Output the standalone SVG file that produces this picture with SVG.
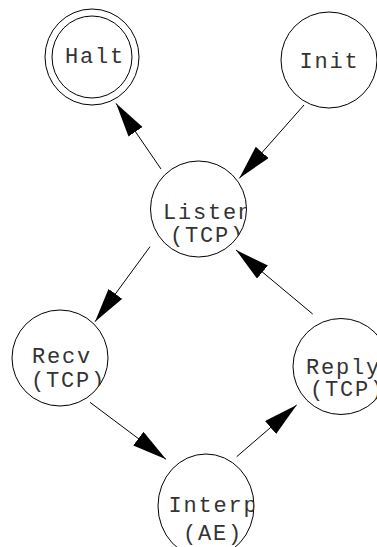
<svg xmlns="http://www.w3.org/2000/svg" width="377" height="547" viewBox="0 0 377 547">
<style>
.node ellipse{fill:none;stroke:#000;stroke-width:1}
.node text{font-family:"Liberation Mono","DejaVu Sans Mono",monospace;font-size:22px;letter-spacing:1.8px;fill:#333}
.edge{stroke:#000;stroke-width:1;fill:none;marker-end:url(#arrow)}
</style>
<defs>
<marker id="arrow" markerUnits="userSpaceOnUse" markerWidth="36" markerHeight="18" refX="34.5" refY="8.5" orient="auto" viewBox="0 0 36 18">
<path d="M0,0 L34.5,8.5 L0,17 z" fill="#000"/>
</marker>
<clipPath id="cHalt"><ellipse cx="92" cy="57" rx="40" ry="41"/></clipPath>
<clipPath id="cInit"><ellipse cx="329" cy="60" rx="48" ry="48"/></clipPath>
<clipPath id="cListen"><ellipse cx="198.5" cy="209" rx="48" ry="48"/></clipPath>
<clipPath id="cRecv"><ellipse cx="60" cy="358" rx="48" ry="48"/></clipPath>
<clipPath id="cReply"><ellipse cx="341" cy="366.5" rx="48" ry="48"/></clipPath>
<clipPath id="cInterp"><ellipse cx="206" cy="506" rx="48" ry="52"/></clipPath>
</defs>
<g id="edges">
<line class="edge" x1="161" y1="169" x2="116" y2="103.3"/>
<line class="edge" x1="304" y1="105" x2="239.3" y2="178.3"/>
<line class="edge" x1="150" y1="246.7" x2="95" y2="321.7"/>
<line class="edge" x1="312.7" y1="314" x2="236" y2="250"/>
<line class="edge" x1="90" y1="402.3" x2="166" y2="459.3"/>
<line class="edge" x1="236.7" y1="456.7" x2="296.7" y2="405"/>
</g>
<g id="Halt" class="node">
<ellipse cx="92" cy="57" rx="47" ry="48"/>
<ellipse cx="92" cy="57" rx="40" ry="41"/>
<text x="65" y="62.5" clip-path="url(#cHalt)">Halt</text>
</g>
<g id="Init" class="node">
<ellipse cx="329" cy="60" rx="48" ry="48"/>
<text x="299.5" y="68" clip-path="url(#cInit)">Init</text>
</g>
<g id="Listen" class="node">
<ellipse cx="198.5" cy="209" rx="48" ry="48"/>
<g clip-path="url(#cListen)">
<text x="163" y="218.5">Listen</text>
<text x="170" y="241.5">(TCP)</text>
</g>
</g>
<g id="Recv" class="node">
<ellipse cx="60" cy="358" rx="48" ry="48"/>
<g clip-path="url(#cRecv)">
<text x="32" y="362.5">Recv</text>
<text x="31" y="386.5">(TCP)</text>
</g>
</g>
<g id="Reply" class="node">
<ellipse cx="341" cy="366.5" rx="48" ry="48"/>
<g clip-path="url(#cReply)">
<text x="306" y="373.5">Reply</text>
<text x="310" y="396">(TCP)</text>
</g>
</g>
<g id="Interp" class="node">
<ellipse cx="206" cy="506" rx="48" ry="52"/>
<g clip-path="url(#cInterp)">
<text x="168.5" y="512">Interp</text>
<text x="183" y="540">(AE)</text>
</g>
</g>
</svg>
